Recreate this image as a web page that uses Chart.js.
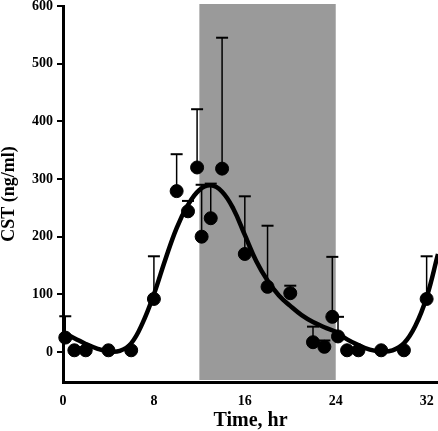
<!DOCTYPE html>
<html>
<head>
<meta charset="utf-8">
<script src="https://cdn.jsdelivr.net/npm/chart.js@4.4.0/dist/chart.umd.min.js"></script>
<style>
  html, body { margin: 0; padding: 0; background: #fff; }
  #wrap { width: 438px; height: 431px; }
</style>
</head>
<body>
<div id="wrap"><canvas id="cstChart"></canvas></div>
<script>
// fitted curve (hr -> ng/ml)
const curveHours = [0, 1, 2, 3, 4, 5, 6, 7, 8, 9, 10, 11, 12, 13, 14, 15, 16, 17, 18, 19, 20, 21, 22, 23, 24, 25, 26, 27, 28, 29, 30, 31, 32, 33];
const curveValues = [33, 24, 14, 6, 1, 2, 15, 50, 100, 160, 215, 255, 281, 289, 278, 248, 203, 158, 124, 98, 80, 64, 52, 43, 35, 22, 12, 4, 1, 3, 15, 45, 95, 170];

// measured points, mean and mean + SE
const pointHours = [0.2, 1, 2, 4, 6, 8, 10, 11, 11.8, 12.2, 13, 14, 16, 18, 20, 22, 23, 23.7, 24.2, 25, 26, 28, 30, 32];
const pointValues = [25, 3, 3, 3, 3, 92, 279, 244, 320, 200, 232, 318, 170, 113, 102, 17, 9, 61, 27, 3, 3, 3, 3, 92];
const errorTops = [62, null, null, null, null, 166, 343, 262, 421, 290, 292, 545, 270, 219, 115, 44, 20, 165, 61, null, null, null, null, 166];

// dark period
const darkStart = 12;
const darkEnd = 24;

const xTicks = [0, 8, 16, 24, 32];
const yTicks = [0, 100, 200, 300, 400, 500, 600];

const serif = "'Liberation Serif', 'Times New Roman', serif";

const shadePlugin = {
  id: 'shade',
  beforeDatasetsDraw(chart) {
    const { ctx, chartArea, scales } = chart;
    const x1 = scales.x.getPixelForValue(darkStart);
    const x2 = scales.x.getPixelForValue(darkEnd);
    ctx.save();
    ctx.fillStyle = '#9a9a9a';
    ctx.fillRect(x1, chartArea.top - 2, x2 - x1, chartArea.bottom - chartArea.top);
    ctx.restore();
  }
};

const errorBarPlugin = {
  id: 'errorBars',
  beforeDatasetsDraw(chart) {
    const { ctx, scales } = chart;
    ctx.save();
    ctx.strokeStyle = '#000';
    pointHours.forEach((h, i) => {
      if (errorTops[i] == null) return;
      const px = scales.x.getPixelForValue(h);
      const py = scales.y.getPixelForValue(pointValues[i]);
      const ty = scales.y.getPixelForValue(errorTops[i]);
      ctx.lineWidth = 1.5;
      ctx.beginPath();
      ctx.moveTo(px, py);
      ctx.lineTo(px, ty);
      ctx.stroke();
      ctx.lineWidth = 2;
      ctx.beginPath();
      ctx.moveTo(px - 6, ty);
      ctx.lineTo(px + 6, ty);
      ctx.stroke();
    });
    ctx.restore();
  }
};

new Chart(document.getElementById('cstChart').getContext('2d'), {
  type: 'scatter',
  data: {
    datasets: [
      {
        type: 'line',
        label: 'Fit',
        data: curveHours.map((h, i) => ({ x: h, y: curveValues[i] })),
        borderColor: '#000',
        borderWidth: 4.5,
        pointRadius: 0,
        tension: 0.4,
        fill: false
      },
      {
        label: 'CST',
        data: pointHours.map((h, i) => ({ x: h, y: pointValues[i] })),
        backgroundColor: '#000',
        borderColor: '#000',
        pointRadius: 6.5,
        clip: false
      }
    ]
  },
  options: {
    responsive: true,
    maintainAspectRatio: false,
    animation: false,
    layout: { autoPadding: false, padding: { top: 6, right: 0, left: 0, bottom: 0 } },
    plugins: {
      legend: { display: false },
      tooltip: { enabled: false }
    },
    scales: {
      x: {
        type: 'linear',
        min: 0,
        max: 33,
        afterBuildTicks: axis => { axis.ticks = xTicks.map(v => ({ value: v })); },
        afterFit: axis => { axis.height = 49; axis.paddingLeft = 0; axis.paddingRight = 0; },
        border: { color: '#000', width: 3 },
        grid: { drawOnChartArea: false, drawTicks: false },
        ticks: {
          color: '#000',
          padding: 11,
          font: { family: serif, size: 14, weight: 'bold' }
        },
        title: {
          display: true,
          text: 'Time, hr',
          color: '#000',
          padding: { top: 7, bottom: 0 },
          font: { family: serif, size: 20, weight: 'bold', lineHeight: 1 }
        }
      },
      y: {
        min: -52,
        max: 600,
        afterBuildTicks: axis => { axis.ticks = yTicks.map(v => ({ value: v })); },
        afterFit: axis => { axis.width = 63; axis.paddingTop = 0; axis.paddingBottom = 0; },
        border: { color: '#000', width: 3 },
        grid: { drawOnChartArea: false, drawTicks: true, tickLength: 6, color: '#000', lineWidth: 2 },
        ticks: {
          color: '#000',
          padding: 4,
          font: { family: serif, size: 14, weight: 'bold' }
        },
        title: {
          display: true,
          text: 'CST (ng/ml)',
          color: '#000',
          padding: { top: 0, bottom: 0 },
          font: { family: serif, size: 18, weight: 'bold', lineHeight: 1 }
        }
      }
    }
  },
  plugins: [shadePlugin, errorBarPlugin]
});
</script>
</body>
</html>
